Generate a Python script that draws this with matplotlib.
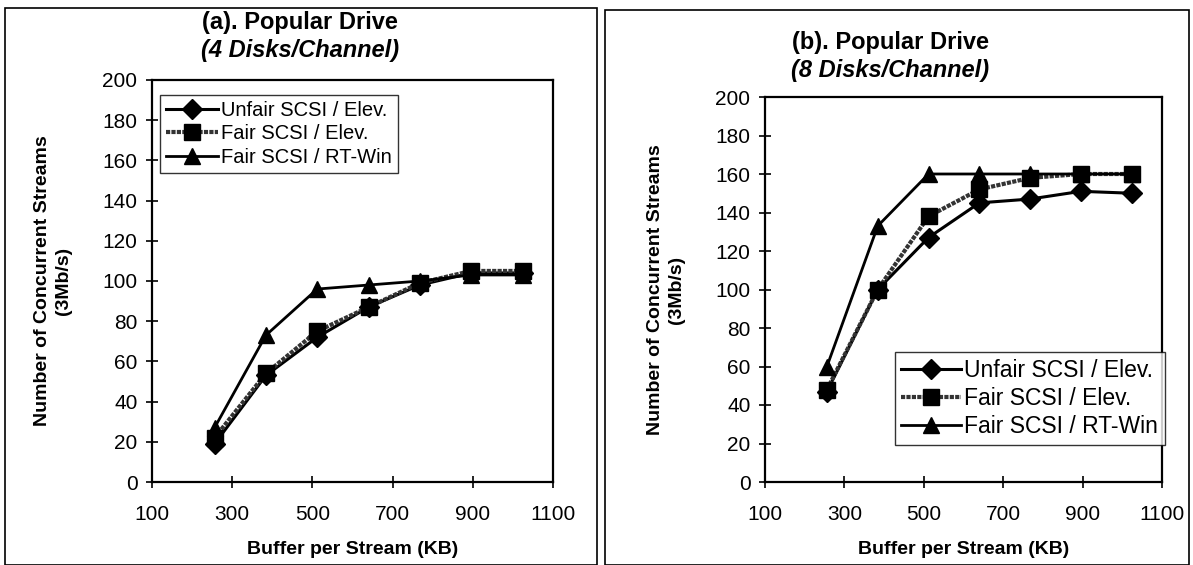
import numpy as np
import matplotlib
matplotlib.use('Agg')
import matplotlib.pyplot as plt
from matplotlib.patches import Rectangle

plt.rcParams['font.family'] = ['Liberation Sans', 'DejaVu Sans']

buffer_kb = [256, 384, 512, 640, 768, 896, 1024]
series_names = ['Unfair SCSI / Elev.', 'Fair SCSI / Elev.', 'Fair SCSI / RT-Win']

# (a) 4 disks/channel
a_unfair = [19, 53, 72, 87, 98, 104, 104]
a_fair = [22, 54, 75, 87, 99, 105, 105]
a_rtwin = [27, 73, 96, 98, 100, 103, 103]

# (b) 8 disks/channel
b_unfair = [47, 100, 127, 145, 147, 151, 150]
b_fair = [48, 100, 138, 152, 158, 160, 160]
b_rtwin = [60, 133, 160, 160, 160, 160, 160]

xticks = [100, 300, 500, 700, 900, 1100]
yticks = list(range(0, 201, 20))

W, H = 1193, 565
fig = plt.figure(figsize=(W / 100, H / 100), dpi=100)

# panel frames
fig.patches.append(Rectangle((5/W, 0), 592/W, 1-8/H, transform=fig.transFigure,
                             fill=False, lw=1.2, ec='black'))
fig.patches.append(Rectangle((605/W, 0), 584/W, 1-10/H, transform=fig.transFigure,
                             fill=False, lw=1.2, ec='black'))

ax1 = fig.add_axes([152/W, 1-482/H, 401/W, 402/H])
ax2 = fig.add_axes([765/W, 1-482/H, 397/W, 385/H])

styles = [dict(marker='D', color='black', ms=10, lw=2.2),
          dict(marker='s', color='#333333', ms=11, lw=3, ls=(0, (1, 0.3))),
          dict(marker='^', color='black', ms=11, lw=2)]

def draw(ax, data, legend_loc, anchor, legsize):
    for vals, name, st in zip(data, series_names, styles):
        ax.plot(buffer_kb, vals, label=name, mec='black', mfc='black', **st)
    ax.set_xlim(100, 1100)
    ax.set_ylim(0, 200)
    ax.set_xticks(xticks)
    ax.set_yticks(yticks)
    ax.tick_params(direction='inout', length=9, width=1.2, labelsize=15)
    ax.tick_params(axis='x', pad=12)
    ax.tick_params(axis='y', pad=6)
    for s in ax.spines.values():
        s.set_linewidth(1.6)
    ax.set_xlabel('Buffer per Stream (KB)', fontsize=14, fontweight='bold', labelpad=12)
    ax.set_ylabel('Number of Concurrent Streams\n(3Mb/s)', fontsize=14, fontweight='bold',
                  labelpad=22, linespacing=1.3)
    leg = ax.legend(loc=legend_loc, bbox_to_anchor=anchor, fontsize=legsize, frameon=True,
                    fancybox=False, edgecolor='black', handlelength=2.6,
                    handletextpad=0.15, borderpad=0.3, labelspacing=0.22,
                    borderaxespad=0)
    leg.get_frame().set_linewidth(1.0)
    return ax

draw(ax1, [a_unfair, a_fair, a_rtwin], 'upper left', (0.02, 0.963), 14.5)
draw(ax2, [b_unfair, b_fair, b_rtwin], 'lower right', (1.008, 0.096), 16.5)

fig.text(300/W, 1-22/H, '(a). Popular Drive', ha='center', va='center',
         fontsize=17, fontweight='bold')
fig.text(300/W, 1-50/H, '(4 Disks/Channel)', ha='center', va='center',
         fontsize=17, fontweight='bold', style='italic')
fig.text(890/W, 1-42/H, '(b). Popular Drive', ha='center', va='center',
         fontsize=17, fontweight='bold')
fig.text(890/W, 1-70/H, '(8 Disks/Channel)', ha='center', va='center',
         fontsize=17, fontweight='bold', style='italic')

fig.savefig('out.png', dpi=100)
